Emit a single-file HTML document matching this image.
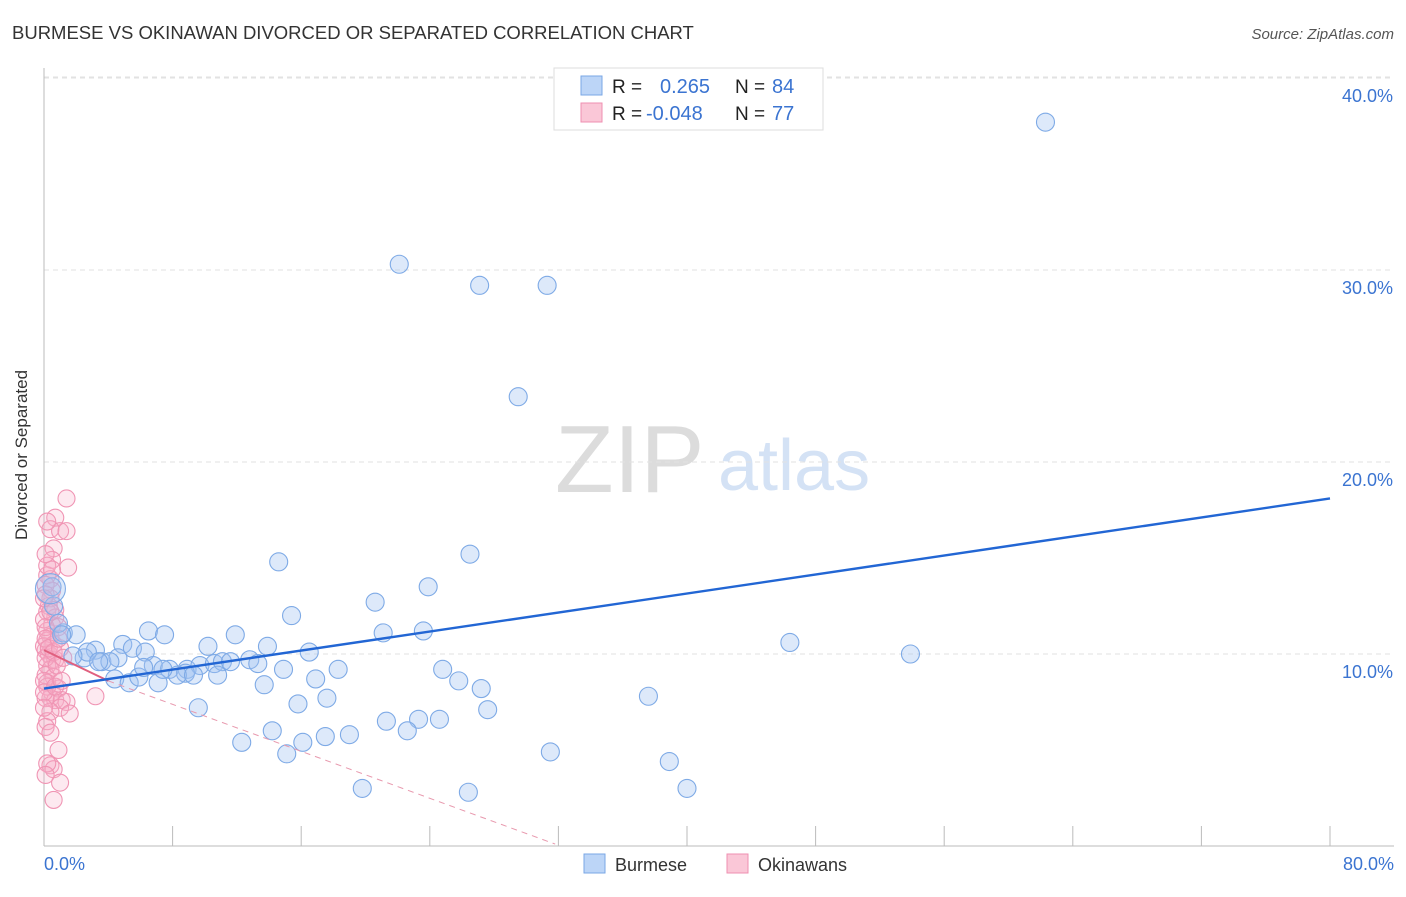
<!DOCTYPE html>
<html><head><meta charset="utf-8"><style>
body{margin:0;background:#fff;font-family:"Liberation Sans",sans-serif}
svg text{font-family:"Liberation Sans",sans-serif}
</style></head><body>
<svg id="c" width="1406" height="892">
<text x="12" y="39" font-size="18.5" fill="#333">BURMESE VS OKINAWAN DIVORCED OR SEPARATED CORRELATION CHART</text>
<text x="1394" y="39" font-size="15" fill="#555" text-anchor="end" font-style="italic">Source: ZipAtlas.com</text>
<text x="555" y="492" font-size="96" fill="#dcdcdc" font-family="Liberation Serif">ZIP</text>
<text x="718" y="490" font-size="72" fill="#d4e2f5">atlas</text>
<g id="grid"></g>
<line x1="44" y1="68" x2="44" y2="846" stroke="#bbb"/>
<line x1="44" y1="846" x2="1394" y2="846" stroke="#bbb"/>
<g id="marks"></g>
<text x="27" y="455" font-size="17" fill="#333" text-anchor="middle" transform="rotate(-90 27 455)">Divorced or Separated</text>
<text x="44" y="870" font-size="18" fill="#3b74d1">0.0%</text>
<text x="1394" y="870" font-size="18" fill="#3b74d1" text-anchor="end">80.0%</text>
<g>
<rect x="554" y="68" width="269" height="62" fill="#fff" stroke="#ddd"/>
<rect x="581" y="76" width="21" height="19" fill="#bcd5f7" stroke="#7aa7e6"/>
<rect x="581" y="103" width="21" height="19" fill="#fac7d7" stroke="#ef8fb0"/>
<text x="612" y="93" font-size="19" fill="#222">R =</text>
<text x="660" y="93" font-size="20" fill="#3b74d1">0.265</text>
<text x="735" y="93" font-size="19" fill="#222">N =</text>
<text x="772" y="93" font-size="20" fill="#3b74d1">84</text>
<text x="612" y="120" font-size="19" fill="#222">R =</text>
<text x="646" y="120" font-size="20" fill="#3b74d1">-0.048</text>
<text x="735" y="120" font-size="19" fill="#222">N =</text>
<text x="772" y="120" font-size="20" fill="#3b74d1">77</text>
</g>
<g>
<rect x="584" y="854" width="21" height="19" fill="#bcd5f7" stroke="#7aa7e6"/>
<text x="615" y="871" font-size="18" fill="#333">Burmese</text>
<rect x="727" y="854" width="21" height="19" fill="#fac7d7" stroke="#ef8fb0"/>
<text x="758" y="871" font-size="18" fill="#333">Okinawans</text>
</g>
</svg>
<script>
const yTicks=[10,20,30,40];
const yTickLabels=["10.0%","20.0%","30.0%","40.0%"];
const xTicks=[8,16,24,32,40,48,56,64,72,80];
const burmeseX=[62.3,22.1,27.1,31.3,29.5,14.6,26.5,23.9,20.6,15.4,21.1,23.6,11.9,6.5,7.5,4.9,10.2,13.9,5.5,6.3,16.5,46.4,53.9,3.2,2.5,3.6,4.6,2.7,1.2,0.9,0.6,0.5,2.0,4.1,6.8,7.8,8.9,9.7,10.6,11.1,11.6,12.8,13.3,14.9,18.3,24.8,8.8,8.3,9.3,10.8,4.4,5.3,5.9,7.1,13.7,16.9,25.8,27.2,17.6,15.8,9.6,27.6,37.6,21.3,23.3,24.6,22.6,14.2,17.5,19.0,16.1,12.3,15.1,31.5,38.9,19.8,26.4,40.0,0.4,1.1,3.4,1.8,7.4,6.2];
const burmeseY=[37.7,30.3,29.2,29.2,23.4,14.8,15.2,13.5,12.7,12.0,11.1,11.2,11.0,11.2,11.0,10.5,10.4,10.4,10.3,10.1,10.1,10.6,10.0,10.2,9.8,9.6,9.8,10.1,11.1,11.6,12.5,13.5,11.0,9.6,9.4,9.2,9.2,9.4,9.5,9.6,9.6,9.7,9.5,9.2,9.2,9.2,9.0,8.9,8.9,8.9,8.7,8.5,8.8,8.5,8.4,8.7,8.6,8.2,7.7,7.4,7.2,7.1,7.8,6.5,6.6,6.6,6.0,6.0,5.7,5.8,5.4,5.4,4.8,4.9,4.4,3.0,2.8,3.0,13.4,11.0,9.6,9.9,9.2,9.3];
const okinawanX=[1.4,0.7,0.4,1.0,1.4,0.6,0.5,1.5,0.2,0.4,0.5,0.4,0.3,0.2,0.7,0.5,0.2,0.4,0.2,0.6,0.1,0.3,0.5,0.7,0.2,0.4,0.1,0.6,0.2,0.9,0.5,0.4,0.7,1.1,1.4,3.2,1.0,1.6,0.9,0.4,0.6,1.0,0.6,0.2,0.1,0.1,0.0,0.1,0.0,0.1,0.2,0.1,0.4,0.0,0.2,0.7,0.9,0.1,0.3,0.6,0.8,0.0,0.2,0.1,0.4,0.0,0.5,0.1,1.0,1.2,0.2,0.7,0.0,0.1,1.1,0.4,0.9];
const okinawanY=[18.1,17.1,16.5,16.4,16.4,15.5,14.9,14.5,14.1,13.9,13.3,12.9,12.5,12.2,11.9,11.5,11.2,10.9,10.7,10.5,10.2,10.0,9.7,9.7,9.4,9.2,8.9,8.8,8.5,8.2,8.0,7.7,7.6,7.6,7.5,7.8,7.2,6.9,5.0,4.2,4.0,3.3,2.4,16.9,13.6,13.1,11.8,11.4,10.4,9.8,8.3,7.7,7.0,8.6,14.6,12.3,11.4,10.8,10.3,10.1,9.4,8.0,4.3,3.7,12.2,12.9,14.4,15.2,10.3,9.8,6.5,8.3,7.2,6.2,8.6,5.9,10.8];
const X=v=>44+v*(1286/80), Y=v=>846-v*19.2;
const NS="http://www.w3.org/2000/svg";
const grid=document.getElementById('grid'),marks=document.getElementById('marks');
function mk(p,tag,a){const e=document.createElementNS(NS,tag);for(const k in a)e.setAttribute(k,a[k]);p.appendChild(e);return e;}
yTicks.forEach((t,i)=>{
 const l=mk(grid,'line',{x1:44,x2:1394,y1:Y(t),y2:Y(t),stroke:'#e2e2e2','stroke-dasharray':'5,4'});
 
 
 const tx=mk(grid,'text',{x:1393,y:Y(t)+24,'font-size':18,fill:'#3b74d1','text-anchor':'end'});
 tx.textContent=yTickLabels[i];
 
 
});
mk(grid,'line',{x1:44,x2:1394,y1:Y(40.05),y2:Y(40.05),stroke:'#e2e2e2','stroke-dasharray':'5,4'});
xTicks.forEach(t=>{
 const l=mk(grid,'line',{x1:X(t),x2:X(t),y1:826,y2:846,stroke:'#bbb'});
 
 
});
okinawanX.forEach((v,i)=>{
 const c=mk(marks,'circle',{cx:X(v),cy:Y(okinawanY[i]),r:8.5,fill:'rgba(248,175,200,0.28)',stroke:'#f095b4','stroke-width':1.1});
 
 
});
burmeseX.forEach((v,i)=>{
 const big=(i===78);
 const c=mk(marks,'circle',{cx:X(v),cy:Y(burmeseY[i]),r:big?15:9,fill:'rgba(160,195,240,0.36)',stroke:'#7eaae6','stroke-width':1.1});
 
 
});
const pl=mk(marks,'line',{x1:X(0),y1:Y(10.2),x2:X(4),y2:Y(8.6),stroke:'#e0607f','stroke-width':2});


const pd=mk(marks,'line',{x1:X(4),y1:Y(8.6),x2:X(31.8),y2:Y(0.1),stroke:'#e899ae','stroke-width':1,'stroke-dasharray':'6,5'});


const bl=mk(marks,'line',{x1:X(0),y1:Y(8.2),x2:X(80),y2:Y(18.1),stroke:'#2266d4','stroke-width':2.4});


</script>
</body></html>
